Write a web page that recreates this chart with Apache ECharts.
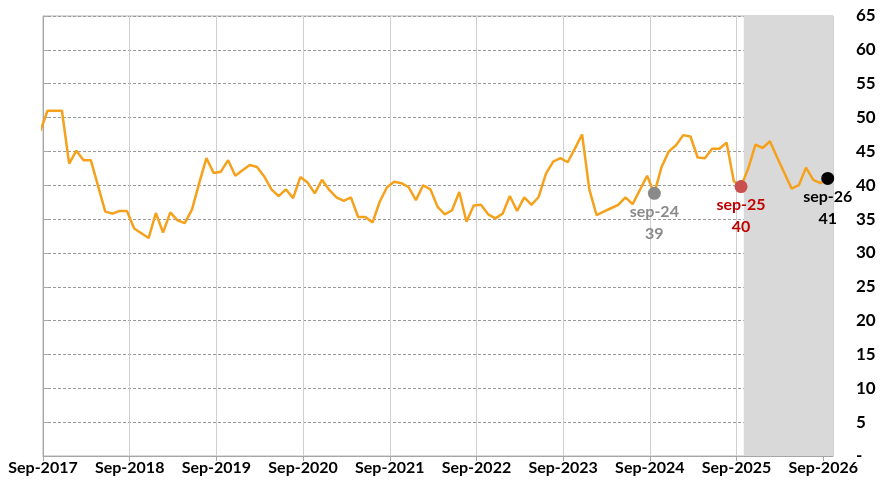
<!DOCTYPE html>
<html>
<head>
<meta charset="utf-8">
<script src="https://cdn.jsdelivr.net/npm/echarts@6/dist/echarts.min.js"></script>
<style>
    html, body { margin: 0; padding: 0; background: #fff; }
    #chart { width: 885px; height: 497px; }
</style>
</head>
<body>
<div id="chart"></div>
<script>
// one tick label per September, month 0 = Sep-2017
const tickLabels = ['Sep-2017', 'Sep-2018', 'Sep-2019', 'Sep-2020', 'Sep-2021',
    'Sep-2022', 'Sep-2023', 'Sep-2024', 'Sep-2025', 'Sep-2026']
// monthly index, Aug-2017 .. Sep-2026
const firstMonth = -1
const indexValues = [
    48.0,
    51.0, 51.0, 51.0, 43.2, 45.1, 43.7, 43.7, 39.9, 36.1, 35.8, 36.2, 36.2,
    33.6, 32.9, 32.2, 35.9, 33.0, 36.0, 34.8, 34.4, 36.4, 40.3, 44.0, 41.8,
    42.0, 43.7, 41.4, 42.2, 43.0, 42.7, 41.3, 39.4, 38.4, 39.4, 38.1, 41.2,
    40.4, 38.8, 40.8, 39.3, 38.2, 37.7, 38.2, 35.3, 35.3, 34.5, 37.6, 39.7,
    40.5, 40.3, 39.7, 37.8, 40.0, 39.4, 36.8, 35.7, 36.3, 39.0, 34.6, 37.0,
    37.1, 35.7, 35.1, 35.8, 38.4, 36.2, 38.2, 37.1, 38.3, 41.7, 43.5, 44.0,
    43.4, 45.4, 47.5, 39.4, 35.6, 36.1, 36.6, 37.1, 38.2, 37.2, 39.3, 41.4,
    38.8, 42.7, 45.0, 45.9, 47.4, 47.2, 44.1, 44.0, 45.4, 45.4, 46.3, 40.6,
    39.8, 42.5, 46.0, 45.5, 46.5, 44.1, 41.8, 39.5, 40.0, 42.6, 40.8, 40.3,
    41.0
]
const highlightMonths = [84, 96, 108]
const highlightNames = ['sep-24', 'sep-25', 'sep-26']
const forecastStart = 97      // Oct-2025
const axisEnd = 109.35        // mid Oct-2026
const dayOffset = 0.62        // readings are dated ~19th of the month

const chart = echarts.init(document.getElementById('chart'))
const font = 'Lato'

const lineData = indexValues.map((v, i) => [firstMonth + i + dayOffset, v])
const highlightColors = [
    { marker: '#8a8a8a', text: '#8a8a8a' },
    { marker: '#c9504f', text: '#c00000' },
    { marker: '#000000', text: '#000000' },
]
const highlightSeries = highlightMonths.map((m, i) => {
    const v = indexValues[m - firstMonth]
    return {
        type: 'scatter',
        symbolSize: 13,
        z: 5,
        itemStyle: { color: highlightColors[i].marker, opacity: 1 },
        label: {
            show: true,
            position: 'bottom',
            distance: 1,
            formatter: highlightNames[i] + '\n' + Math.round(v),
            color: highlightColors[i].text,
            fontFamily: font,
            fontWeight: 'bold',
            fontSize: 16,
            lineHeight: 22,
        },
        data: [[m + dayOffset, v]],
    }
})

const option = {
    animation: false,
    grid: {
        left: 43,
        right: 52,
        top: 16,
        bottom: 41,
        show: true,
        borderColor: '#b4b4b4',
        borderWidth: 1,
    },
    xAxis: {
        type: 'value',
        min: 0,
        max: axisEnd,
        interval: 12,
        axisLine: { show: true, lineStyle: { color: '#a6a6a6', width: 1 } },
        axisTick: { show: true, length: 5, lineStyle: { color: '#a6a6a6' } },
        splitLine: { show: true, lineStyle: { color: '#cfcfcf', width: 1 } },
        axisLabel: {
            showMaxLabel: false,
            margin: 4,
            color: '#000',
            fontFamily: font,
            fontWeight: 'bold',
            fontSize: 16,
            formatter: v => (v % 12 === 0 ? tickLabels[v / 12] : ''),
        },
    },
    yAxis: {
        type: 'value',
        position: 'right',
        min: 0,
        max: 65,
        interval: 5,
        axisLine: { show: true, lineStyle: { color: '#a6a6a6', width: 1 } },
        axisTick: { show: true, length: 5, lineStyle: { color: '#a6a6a6' } },
        splitLine: { show: true, lineStyle: { color: '#9a9a9a', width: 1, type: [3, 2] } },
        axisLabel: {
            margin: 23,
            color: '#000',
            fontFamily: font,
            fontWeight: 'bold',
            fontSize: 17,
            formatter: v => (v === 0 ? '-' : v),
        },
    },
    series: [
        {
            type: 'line',
            data: lineData,
            showSymbol: false,
            clip: true,
            z: 3,
            lineStyle: { color: '#f6a11c', width: 2.5 },
            markArea: {
                silent: true,
                itemStyle: { color: '#d9d9d9' },
                data: [[{ xAxis: forecastStart }, { xAxis: axisEnd }]],
            },
        },
        ...highlightSeries,
    ],
}

chart.setOption(option)
</script>
</body>
</html>
